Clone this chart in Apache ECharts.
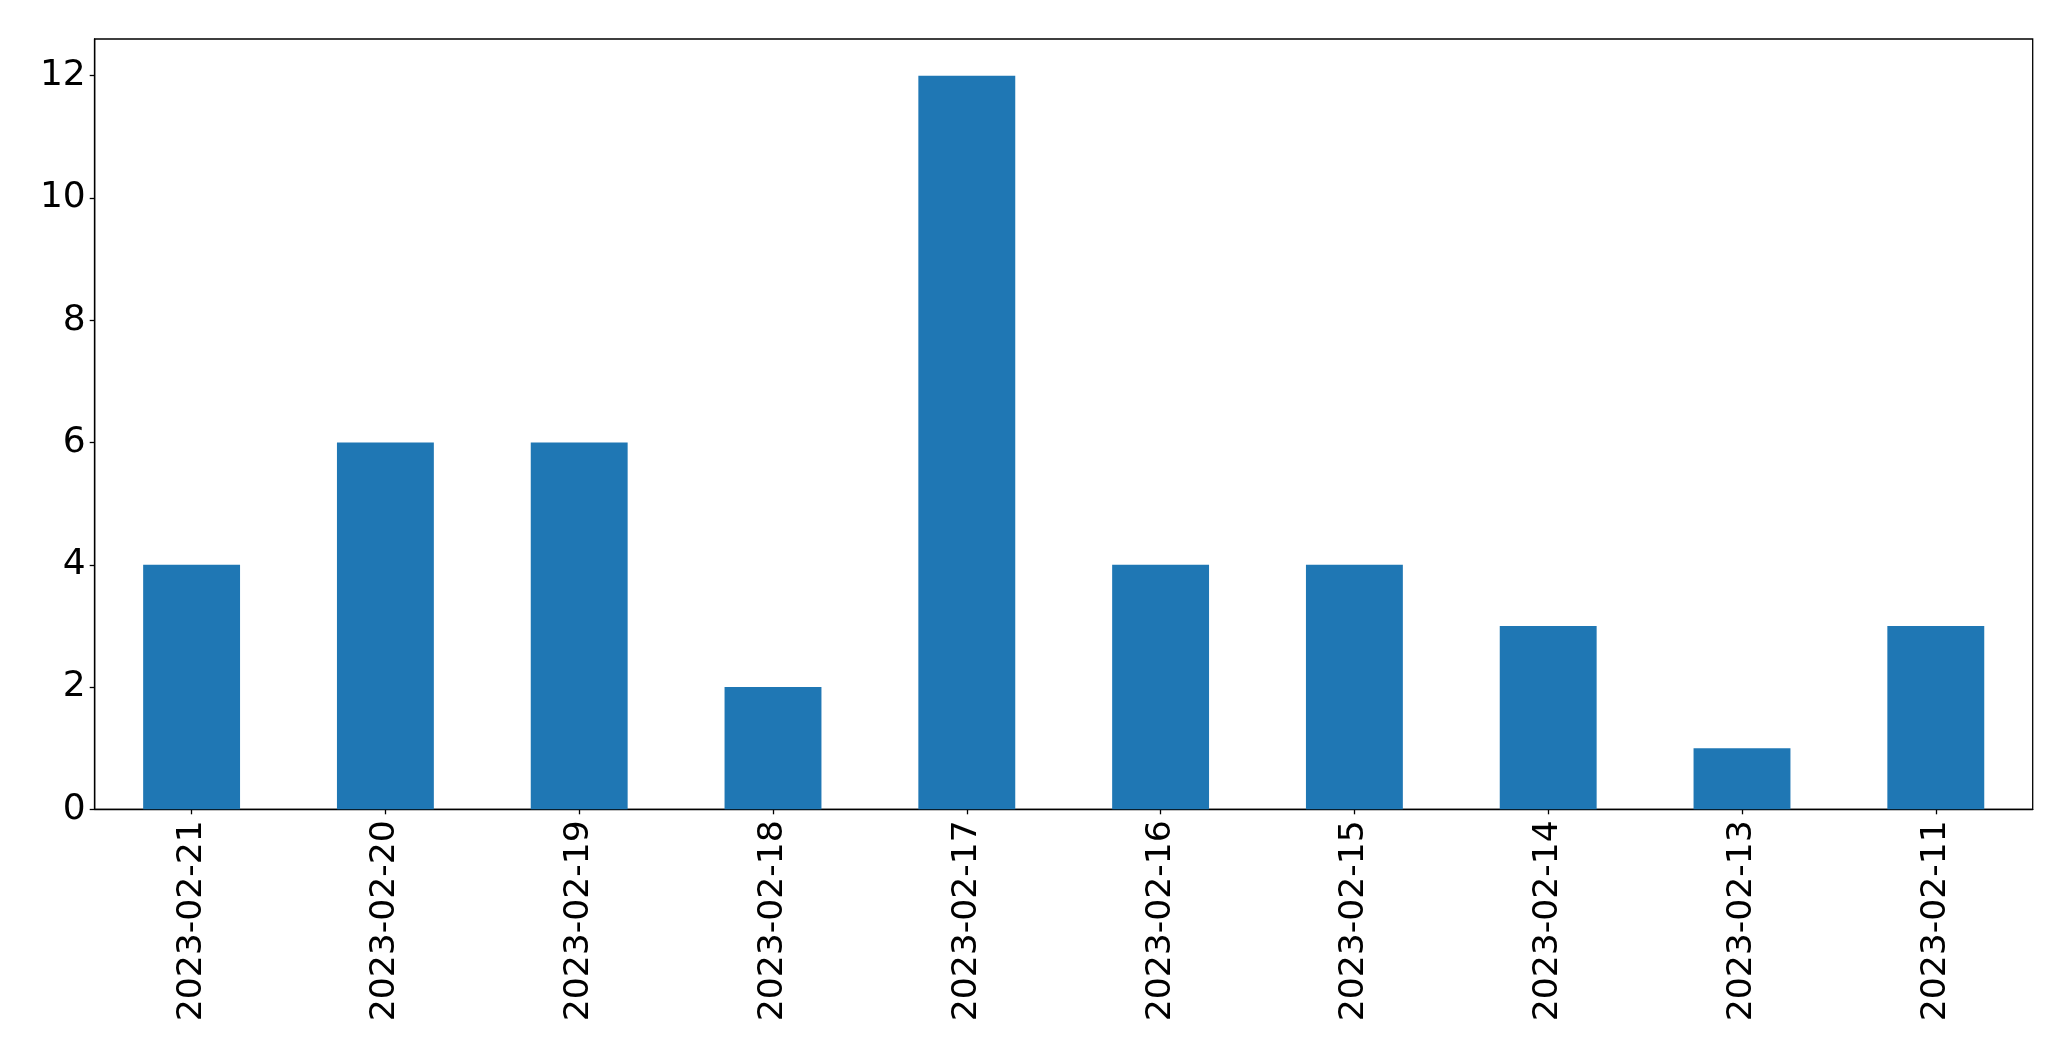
<!DOCTYPE html>
<html>
<head>
<meta charset="utf-8">
<script src="https://cdn.jsdelivr.net/npm/echarts@6/dist/echarts.min.js"></script>
<style>html,body{margin:0;padding:0;background:#fff;}#c{width:2071px;height:1061px;}</style>
</head>
<body>
<div id="c"></div>
<script>
const categories = ["2023-02-21","2023-02-20","2023-02-19","2023-02-18","2023-02-17","2023-02-16","2023-02-15","2023-02-14","2023-02-13","2023-02-11"];
const values = [4, 6, 6, 2, 12, 4, 4, 3, 1, 3];
const yTicks = [0, 2, 4, 6, 8, 10, 12];

const chart = echarts.init(document.getElementById('c'), null, {renderer: 'canvas'});
chart.setOption({
  animation: false,
  backgroundColor: '#fff',
  grid: {left: 94.7, right: 38.3, top: 39, bottom: 251.7, show: true, borderColor: '#000', borderWidth: 1.3, backgroundColor: 'transparent'},
  xAxis: {
    type: 'category', data: categories,
    axisLine: {show: true, lineStyle: {color: '#000', width: 1.3}},
    axisTick: {show: true, alignWithLabel: true, length: 5, lineStyle: {color: '#000', width: 1.3}},
    axisLabel: {rotate: 90, margin: 11, interval: 0, fontFamily: 'DejaVu Sans', fontSize: 34.6, color: '#000'},
    splitLine: {show: false}
  },
  yAxis: {
    type: 'value', min: 0, max: 12.6, interval: 2,
    axisLine: {show: true, lineStyle: {color: '#000', width: 1.3}},
    axisTick: {show: true, length: 5, lineStyle: {color: '#000', width: 1.3}},
    axisLabel: {margin: 9, showMaxLabel: false, formatter: v => yTicks.includes(v) ? String(v) : '', fontFamily: 'DejaVu Sans', fontSize: 36, color: '#000'},
    splitLine: {show: false}
  },
  series: [{
    type: 'bar', data: values, barWidth: '50%',
    itemStyle: {color: '#1f77b4'}
  }]
});
</script>
</body>
</html>
